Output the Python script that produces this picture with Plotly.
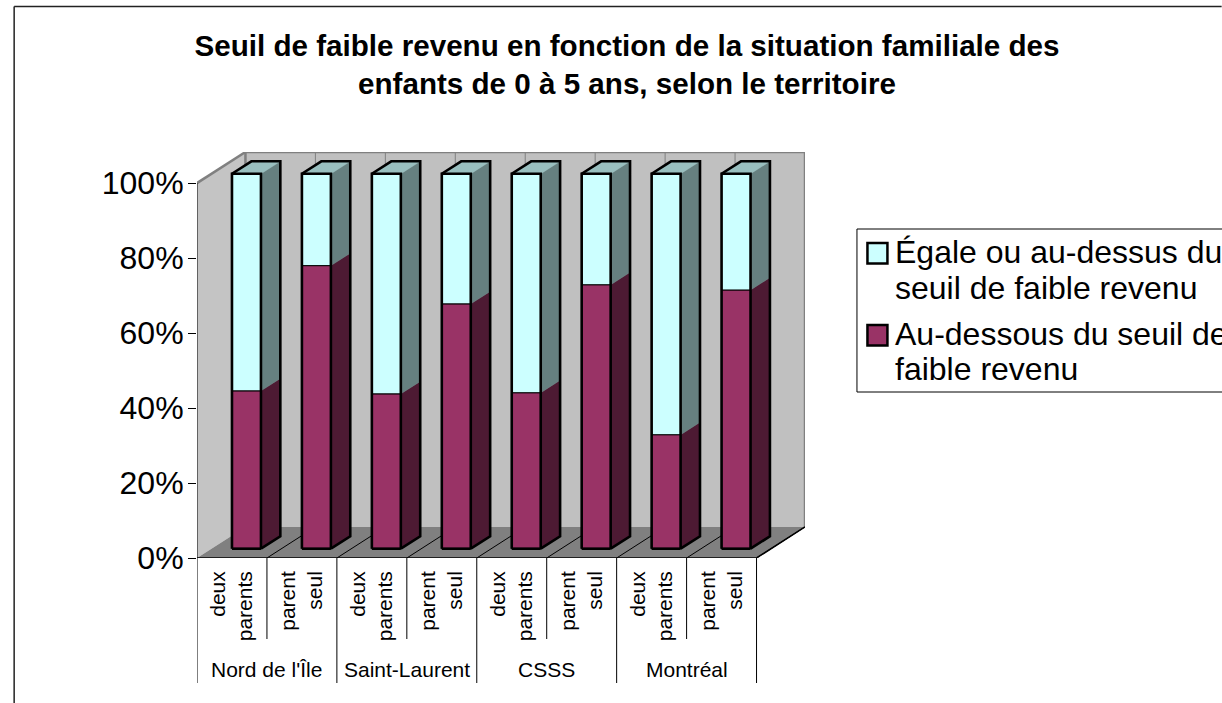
import plotly.graph_objects as go

groups = ["Nord de l'Île", "Saint-Laurent", "CSSS", "Montréal"]
situations = ["deux<br>parents", "parent<br>seul"] * 4
below = [42.1, 75.5, 41.3, 65.3, 41.6, 70.4, 30.4, 69.0]
above = [100 - v for v in below]
series_lines = [["Égale ou au-dessus du", "seuil de faible revenu"], ["Au-dessous du seuil de", "faible revenu"]]
y_ticks = [0, 20, 40, 60, 80, 100]

FONT = "Liberation Sans"
W, H = 1222, 703
X0, CAT = 196.5, 70.0          # axis origin and category width in px
Y0, PCT = 558.0, 3.74          # zero line and px per percent
DX, DY = 48.5, 31.0            # full depth of the 3D box in px
n = len(below)
ux, uy = DX / CAT, DY / PCT    # depth in data units
xmax, ymax = n + ux, 100 + uy
FRONT, BACK = 0.3, 0.7         # depth fractions of each bar
WID = 29 / CAT
COL = {"top": ("#CCFFFF", "#668080", "#99BFBF"), "low": ("#993366", "#4D1A33", "#734D59")}
RIGHT, TOP = 805.0, 152.0


def py(p):
    return (Y0 - p) / (Y0 - TOP)


def pxx(v):
    return (v - X0) / (RIGHT - X0)


shapes = []


def poly(pts, fill, lw=0, lc="rgba(0,0,0,0)"):
    path = "M" + "L".join(f"{a},{b}" for a, b in pts) + "Z"
    shapes.append(dict(type="path", path=path, xref="x", yref="y", layer="below",
                       fillcolor=fill, line=dict(width=lw, color=lc)))


def seg(x0, y0, x1, y1, color="black", w=1, xref="x", yref="y"):
    shapes.append(dict(type="line", x0=x0, y0=y0, x1=x1, y1=y1, xref=xref, yref=yref,
                       layer="below", line=dict(color=color, width=w)))


# walls and floor
poly([(0, 0), (ux, uy), (ux, ymax), (0, 100)], "#C4C4C4")
poly([(ux, uy), (xmax, uy), (xmax, ymax), (ux, ymax)], "#C0C0C0")
poly([(0, 0), (n, 0), (xmax, uy), (ux, uy)], "#808080")
for i in range(n + 1):
    seg(i + ux, uy, i + ux, ymax, "#808080", 1)
    if i:
        seg(i, 0, i + ux, uy, "black", 1)
seg(0, 100, ux, ymax, "#808080", 2.5)
seg(ux, ymax, xmax, ymax, "#808080", 2.5)
seg(xmax, ymax, xmax, uy, "#808080", 2.5)
seg(ux, ymax, ux, uy, "#808080", 2.5)
seg(0, 0, 0, 100, "black", 1)
seg(0, 0, n, 0, "black", 1.5)
seg(n, 0, xmax, uy, "black", 1.5)

fig = go.Figure()
xs = [i + 0.5 + 14.5 / CAT for i in range(n)]
fy = FRONT * uy
fig.add_trace(go.Bar(x=xs, y=below, base=[fy] * n, width=WID, marker=dict(color=COL["low"][0], line=dict(color="black", width=1)),
                     showlegend=False, name="Au-dessous du seuil de faible revenu"))
fig.add_trace(go.Bar(x=xs, y=above, base=[fy + v for v in below], width=WID, marker=dict(color=COL["top"][0], line=dict(color="black", width=1)),
                     showlegend=False, name="Égale ou au-dessus du seuil de faible revenu"))

sx, sy = (BACK - FRONT) * ux, (BACK - FRONT) * uy


def face(px, qy, fill):
    fig.add_trace(go.Scatter(x=px, y=qy, mode="lines", fill="toself", fillcolor=fill,
                             line=dict(color=fill, width=0.5), showlegend=False, hoverinfo="skip"))


for x, v in zip(xs, below):
    r, l = x + WID / 2, x - WID / 2
    b, t = fy, fy + 100
    face([r, r + sx, r + sx, r, r], [b, b + sy, b + v + sy, b + v, b], COL["low"][1])
    face([r, r + sx, r + sx, r, r], [b + v, b + v + sy, t + sy, t, b + v], COL["top"][1])
    face([l, l + sx, r + sx, r, l], [t, t + sy, t + sy, t, t], COL["top"][2])
    # outline of the whole bar
    fig.add_trace(go.Scatter(
        x=[l, l, r, r, None, l, l + sx, r + sx, r + sx, r, None, l, r, None, r, r],
        y=[b, t, t, b, None, t, t + sy, t + sy, b + sy, b, None, b, b, None, t, t],
        mode="lines", line=dict(color="black", width=2.6), showlegend=False, hoverinfo="skip"))

# category separators and group labels
for i in range(n + 1):
    low = 683 if i % 2 == 0 else 639
    seg(i, py(558), i, py(low), "black", 1, yref="paper")
for k, g in enumerate(groups):
    fig.add_annotation(x=2 * k + 1, y=py(669), xref="x", yref="paper", text=g, showarrow=False,
                       font=dict(family=FONT, size=21, color="black"), yanchor="middle")


def box(x0, y0, x1, y1, fill, lw, lc="black"):
    shapes.append(dict(type="rect", xref="paper", yref="paper", x0=pxx(x0), x1=pxx(x1), y0=py(y0), y1=py(y1),
                       fillcolor=fill, line=dict(color=lc, width=lw), layer="above"))


# legend, which runs off the right edge of the picture as in the reference
box(857, 229, 1300, 392, "white", 1)
box(867.5, 243, 887.5, 263.5, COL["top"][0], 2.5)
box(867.5, 325, 887.5, 345.5, COL["low"][0], 2.5)
for lines, bases in zip(series_lines, [(252, 288), (334, 369)]):
    for text, base in zip(lines, bases):
        fig.add_annotation(x=pxx(893), y=py(base), xref="paper", yref="paper", text=text, showarrow=False,
                           xanchor="left", yanchor="middle", align="left",
                           font=dict(family=FONT, size=32, color="black"))

# outer frame
shapes.append(dict(type="line", xref="paper", yref="paper", x0=pxx(13.5), x1=pxx(13.5), y0=py(6.5), y1=py(703),
                   line=dict(color="#222222", width=1.5), layer="above"))
shapes.append(dict(type="line", xref="paper", yref="paper", x0=pxx(13.5), x1=pxx(W), y0=py(6.5), y1=py(6.5),
                   line=dict(color="#222222", width=1.5), layer="above"))

fig.update_layout(
    width=W, height=H, autosize=False, showlegend=False,
    margin=dict(l=X0, r=W - RIGHT, t=TOP, b=H - Y0, autoexpand=False),
    paper_bgcolor="white", plot_bgcolor="white", barmode="overlay", shapes=shapes,
    font=dict(family=FONT, color="black"),
    title=dict(text="<b>Seuil de faible revenu en fonction de la situation familiale des<br>enfants de 0 à 5 ans, selon le territoire</b>",
               x=627 / W, xanchor="center", xref="container", y=1 - 56 / H, yanchor="top",
               font=dict(family=FONT, size=29.6, color="black")),
    xaxis=dict(range=[0, xmax], tickmode="array", tickvals=[i + 0.5 for i in range(n)], ticktext=situations,
               tickangle=-90, ticks="", showgrid=False, zeroline=False, showline=False, automargin=False,
               tickfont=dict(family=FONT, size=21, color="black"), ticklabelstandoff=8),
    yaxis=dict(range=[0, ymax], tickmode="array", tickvals=y_ticks, ticktext=[f"{v}%" for v in y_ticks],
               ticks="outside", ticklen=8, tickwidth=1, tickcolor="black", showgrid=False, zeroline=False,
               showline=False, automargin=False, ticklabelstandoff=-2,
               tickfont=dict(family=FONT, size=32, color="black")),
)

fig.write_html("out.html", config=dict(displayModeBar=False),
               post_script="document.body.style.margin='0';document.documentElement.style.overflow='hidden';document.body.style.overflow='hidden';")
